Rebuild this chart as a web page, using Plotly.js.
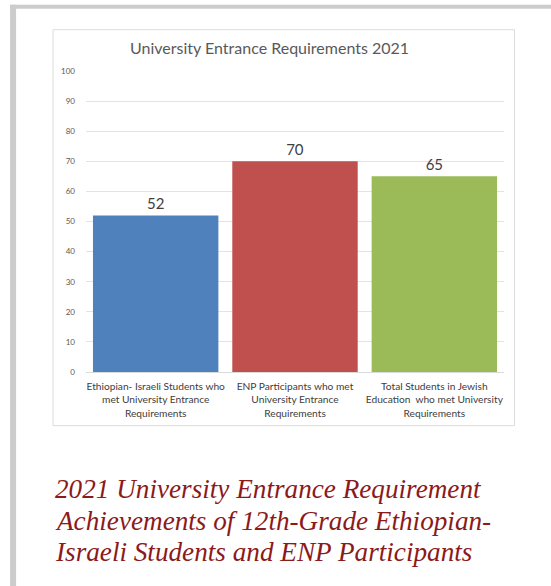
<!DOCTYPE html>
<html>
<head>
<meta charset="utf-8">
<script src="https://cdn.plot.ly/plotly-3.0.1.min.js"></script>
<style>
html,body{margin:0;padding:0;background:#fff;}
#chart{width:551px;height:586px;}
</style>
</head>
<body>
<div id="chart"></div>
<script>
var categories = [
  "Ethiopian- Israeli Students who<br>met University Entrance<br>Requirements",
  "ENP Participants who met<br>University Entrance<br>Requirements",
  "Total Students in Jewish<br>Education  who met University<br>Requirements"
];
var values = [52, 70, 65];
var barColors = ["#4f81bd", "#c0504d", "#9bbb59"];
var yTicks = [0, 10, 20, 30, 40, 50, 60, 70, 80, 90, 100];
var chartTitle = "University Entrance Requirements 2021";
var captionLines = [
  "2021 University Entrance Requirement",
  "Achievements of 12th-Grade Ethiopian-",
  "Israeli Students and ENP Participants"
];

var W = 551, H = 586;
var L = 86, R = 504.5, T = 71.3, B = 372.3;
function px(x){ return (x - L) / (R - L); }
function py(y){ return (B - y) / (B - T); }

var trace = {
  type: "bar",
  x: [0, 1, 2],
  y: values,
  marker: {color: barColors, line: {width: 0}},
  text: values.map(String),
  textposition: "outside",
  textfont: {family: "Lato, 'Open Sans', sans-serif", size: 15, color: "#404040"},
  cliponaxis: false,
  hoverinfo: "none"
};

var shapes = [
  {type:"rect", xref:"paper", yref:"paper", x0:px(10), x1:px(560), y0:py(9), y1:py(5), fillcolor:"#cccccc", line:{width:0}, layer:"below"},
  {type:"rect", xref:"paper", yref:"paper", x0:px(10), x1:px(16), y0:py(600), y1:py(5), fillcolor:"#cccccc", line:{width:0}, layer:"below"},
  {type:"rect", xref:"paper", yref:"paper", x0:px(53), x1:px(515), y0:py(426), y1:py(30), fillcolor:"rgba(0,0,0,0)", line:{color:"#dcdcdc", width:1}, layer:"below"}
];

var annotations = [
  {xref:"paper", yref:"paper", x:px(270), y:py(48), xanchor:"center", yanchor:"middle", showarrow:false,
   text: chartTitle, font:{family:"Lato, 'Open Sans', sans-serif", size:16, color:"#595959"}}
];
var capY = [489, 521, 552];
captionLines.forEach(function(t, i){
  annotations.push({xref:"paper", yref:"paper", x:px(53), y:py(capY[i]), xanchor:"left", yanchor:"middle", showarrow:false,
    text:"<i>"+t+"</i>", font:{family:"'Liberation Serif', 'Times New Roman', serif", size:27.2, color:"#8b1a1a"}});
});

var layout = {
  width: W, height: H,
  margin: {l: L, r: W - R, t: T, b: H - B, pad: 0},
  paper_bgcolor: "#ffffff",
  plot_bgcolor: "rgba(0,0,0,0)",
  showlegend: false,
  bargap: 0.1,
  xaxis: {
    range: [-0.5, 2.5],
    tickvals: [0, 1, 2],
    ticktext: categories,
    showgrid: false, zeroline: false, showline: false, ticks: "",
    ticklabelstandoff: 7,
    tickfont: {family: "Lato, 'Open Sans', sans-serif", size: 10.2, color: "#404040"},
    fixedrange: true
  },
  yaxis: {
    range: [0, 100],
    tickvals: yTicks,
    ticktext: yTicks.map(String),
    showgrid: true, gridcolor: "#e3e3e3", gridwidth: 1,
    zeroline: true, zerolinecolor: "#d9d9d9", zerolinewidth: 1,
    showline: false, ticks: "",
    ticklabelstandoff: 10,
    tickfont: {family: "Lato, 'Open Sans', sans-serif", size: 8, color: "#595959"},
    fixedrange: true
  },
  shapes: shapes,
  annotations: annotations
};

Plotly.newPlot("chart", [trace], layout, {displayModeBar: false, staticPlot: true});
</script>
</body>
</html>
